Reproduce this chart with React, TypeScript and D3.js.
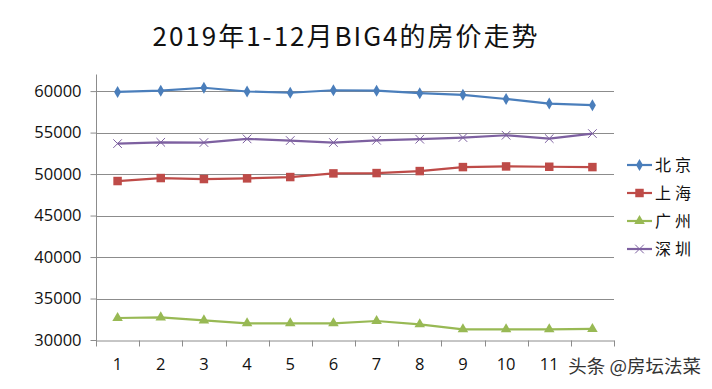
import React, { useEffect, useRef } from "react";
import * as d3 from "d3";

const months = ["1", "2", "3", "4", "5", "6", "7", "8", "9", "10", "11", "12"];
const cities = ["北京", "上海", "广州", "深圳"];
const beijing = [59900, 60050, 60400, 59950, 59800, 60100, 60050, 59750, 59550, 59050, 58500, 58300];
const shanghai = [49160, 49520, 49400, 49480, 49640, 50080, 50120, 50360, 50840, 50920, 50880, 50840];
const guangzhou = [32650, 32730, 32370, 32010, 32010, 32010, 32290, 31890, 31290, 31290, 31290, 31330];
const shenzhen = [53670, 53830, 53800, 54240, 54040, 53800, 54070, 54200, 54400, 54680, 54280, 54880];
const yTicks = [30000, 35000, 40000, 45000, 50000, 55000, 60000];

const colors = ["#4a7ebb", "#be4b48", "#98b954", "#7d60a0"];
const shapes = ["diamond", "square", "triangle", "cross"];

const App = () => {
  const svgRef = useRef<SVGSVGElement>(null);

  useEffect(() => {
    const svg = d3.select(svgRef.current);
    svg.selectAll("*").remove();

    const left = 96, right = 614, top = 74.5, bottom = 340;

    const x = d3.scaleBand().domain(months).range([left, right]);
    const y = d3.scaleLinear().domain([30000, 62000]).range([bottom, top]);

    svg.append("rect").attr("width", 712).attr("height", 389).attr("fill", "#fff");

    // title
    svg
      .append("text")
      .attr("x", 346)
      .attr("y", 46)
      .attr("text-anchor", "middle")
      .attr("font-family", "'Noto Sans CJK SC', sans-serif")
      .attr("font-size", 26)
      .attr("letter-spacing", 2)
      .attr("fill", "#111")
      .text("2019年1-12月BIG4的房价走势");

    // grid lines
    svg
      .append("g")
      .selectAll("line")
      .data(yTicks.slice(1))
      .join("line")
      .attr("x1", left)
      .attr("x2", right)
      .attr("y1", (d) => Math.round(y(d)) + 0.5)
      .attr("y2", (d) => Math.round(y(d)) + 0.5)
      .attr("stroke", "#8c8c8c")
      .attr("stroke-width", 1);

    // y axis
    const yAxis = svg
      .append("g")
      .attr("transform", "translate(" + (left + 0.5) + ",0)")
      .call(
        d3
          .axisLeft(y)
          .tickValues(yTicks)
          .tickFormat(d3.format("d"))
          .tickSize(6)
          .tickSizeOuter(0)
          .tickPadding(9)
      );
    yAxis.select(".domain").attr("stroke", "#8c8c8c").attr("d", "M0," + top + "V" + (bottom + 6));
    yAxis.selectAll(".tick line").attr("stroke", "#8c8c8c");
    yAxis
      .selectAll("text")
      .attr("font-family", "'Open Sans', sans-serif")
      .attr("font-size", 16.5)
      .attr("fill", "#111");

    // x axis
    const xAxis = svg
      .append("g")
      .attr("transform", "translate(0," + (bottom + 0.5) + ")")
      .call(d3.axisBottom(x).tickSize(0).tickPadding(18).tickSizeOuter(0));
    xAxis.select(".domain").attr("stroke", "#8c8c8c");
    xAxis
      .selectAll("text")
      .attr("font-family", "'Open Sans', sans-serif")
      .attr("font-size", 16.5)
      .attr("fill", "#111");
    xAxis
      .append("g")
      .selectAll("line")
      .data(d3.range(13))
      .join("line")
      .attr("x1", (i) => Math.round(left + i * x.step()) + 0.5)
      .attr("x2", (i) => Math.round(left + i * x.step()) + 0.5)
      .attr("y1", 0)
      .attr("y2", 6)
      .attr("stroke", "#8c8c8c");

    const series = [beijing, shanghai, guangzhou, shenzhen];
    const cx = (i: number) => x(months[i])! + x.bandwidth() / 2;

    const symbolFor = (s: string) => {
      if (s === "diamond") return d3.symbol(d3.symbolDiamond, 42)();
      if (s === "square") return d3.symbol(d3.symbolSquare, 72)();
      if (s === "triangle") return d3.symbol(d3.symbolTriangle, 48)();
      return d3.symbol(d3.symbolX, 50)();
    };

    const line = d3
      .line<number>()
      .x((d, i) => cx(i))
      .y((d) => y(d));

    series.forEach((vals, k) => {
      svg
        .append("path")
        .datum(vals)
        .attr("fill", "none")
        .attr("stroke", colors[k])
        .attr("stroke-width", 2.2)
        .attr("stroke-linejoin", "round")
        .attr("d", line);

      svg
        .append("g")
        .selectAll("path")
        .data(vals)
        .join("path")
        .attr("transform", (d, i) => "translate(" + cx(i) + "," + y(d) + ")")
        .attr("d", symbolFor(shapes[k]))
        .attr("fill", shapes[k] === "cross" ? "none" : colors[k])
        .attr("stroke", colors[k])
        .attr("stroke-width", shapes[k] === "cross" ? 1 : 0);
    });

    // legend
    const legend = svg.append("g");
    cities.forEach((c, k) => {
      const ly = 165 + k * 28;
      legend
        .append("line")
        .attr("x1", 627)
        .attr("x2", 652)
        .attr("y1", ly)
        .attr("y2", ly)
        .attr("stroke", colors[k])
        .attr("stroke-width", 2.2);
      legend
        .append("path")
        .attr("transform", "translate(639.5," + ly + ")")
        .attr("d", symbolFor(shapes[k]))
        .attr("fill", shapes[k] === "cross" ? "none" : colors[k])
        .attr("stroke", colors[k])
        .attr("stroke-width", shapes[k] === "cross" ? 1 : 0);
      legend
        .append("text")
        .attr("x", 655)
        .attr("y", ly + 6)
        .attr("font-family", "'Noto Sans CJK SC', sans-serif")
        .attr("font-size", 16)
        .attr("letter-spacing", 4)
        .attr("fill", "#111")
        .text(c);
    });

    // watermark, drawn over the last month label like in the screenshot
    svg
      .append("rect")
      .attr("x", 568)
      .attr("y", 352)
      .attr("width", 136)
      .attr("height", 28)
      .attr("fill", "#fff");
    svg
      .append("text")
      .attr("x", 701)
      .attr("y", 373)
      .attr("text-anchor", "end")
      .attr("font-family", "'Noto Sans CJK SC', sans-serif")
      .attr("font-size", 18.5)
      .attr("fill", "#333")
      .text("头条 @房坛法菜");
  }, []);

  return (
    <svg
      ref={svgRef}
      width={712}
      height={389}
      style={{ position: "absolute", left: 0, top: 0 }}
    ></svg>
  );
};

export default App;
